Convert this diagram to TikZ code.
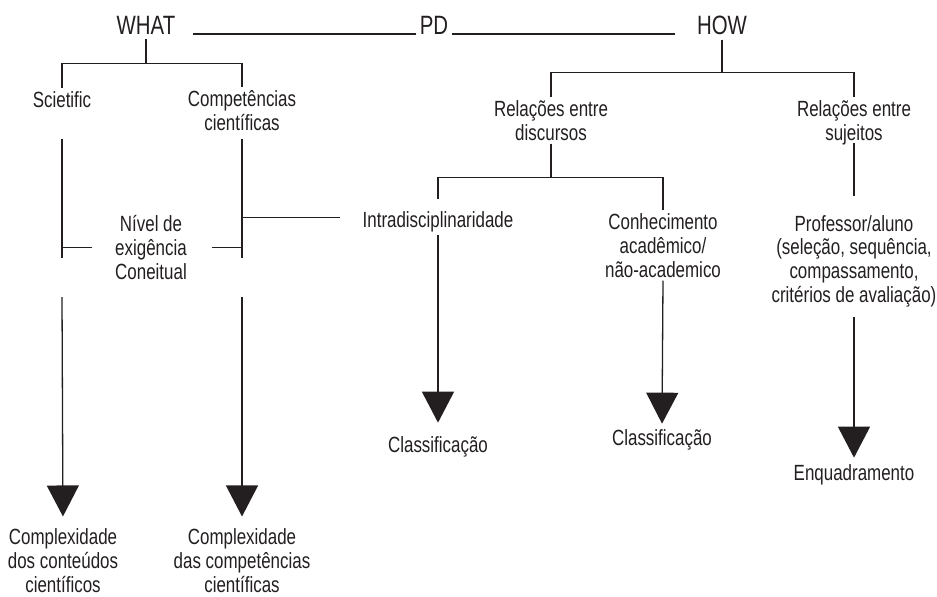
\documentclass[tikz,border=0pt]{standalone}
\usepackage{fontspec}
\setmainfont[FakeStretch=0.77]{Liberation Sans}
\usetikzlibrary{arrows.meta,positioning}
\definecolor{ink}{HTML}{231F20}

\begin{document}
\begin{tikzpicture}[x=0.5pt,y=-0.5pt,
  every node/.style={text=ink,inner sep=1.5pt,align=center,anchor=base,
    font=\fontsize{11pt}{11.8pt}\selectfont},
  head/.style={font=\fontsize{13.25pt}{14pt}\selectfont},
  link/.style={draw=ink,line width=0.65pt},
  down/.style={link,-{Triangle[width=16pt,length=15.5pt]}}]
\useasboundingbox (0,0) rectangle (937,596);

\node[head] (what) at (146,34) {WHAT};
\node[head] (pd) at (434,34) {PD};
\node[head] (how) at (722,34) {HOW};
\node (sci) at (62,107) {Scietific};
\node (comp) at (242,130) {Competências\\científicas};
\node (niv) at (151,279) {Nível de\\exigência\\Coneitual};
\node (rdis) at (551,140) {Relações entre\\discursos};
\node (rsuj) at (854,140) {Relações entre\\sujeitos};
\node (intra) at (438,227) {Intradisciplinaridade};
\node (conh) at (663,277) {Conhecimento\\acadêmico/\\não-academico};
\node (prof) at (854,302) {Professor/aluno\\(seleção, sequência,\\compassamento,\\critérios de avaliação)};
\node (cxa) at (63,592) {Complexidade\\dos conteúdos\\científicos};
\node (cxb) at (242,592) {Complexidade\\das competências\\científicas};
\node (cla) at (438,452) {Classificação};
\node (clb) at (662,445) {Classificação};
\node (enq) at (854,480) {Enquadramento};
\coordinate (sa) at (62,258);
\coordinate (sb) at (62,297);
\coordinate (ca) at (242,258);
\coordinate (cb) at (242,297);

\draw[link] (what.base east) ++(7pt,0) -- (pd.base west);
\draw[link] (pd.base east) -- ([xshift=-9.5pt]how.base west);
\draw[link] ([yshift=-1pt]what.south) -- ++(0,24) coordinate (wj);
\draw[link] (sci.north) |- (wj) -| (comp.north);
\draw[link] ([yshift=-1pt]how.south) -- ++(0,33) coordinate (hj);
\draw[link] (rdis.north) |- (hj) -| (rsuj.north);
\draw[link] (rdis.south) -- ++(0,34) coordinate (dj);
\draw[link,shorten <=4.5pt] (intra.north) |- (dj) -| (conh.north);
\draw[link] ([yshift=2.5pt]rsuj.south) -- ([yshift=8pt]prof.north);

\draw[link] ([yshift=-2.5pt]comp.south -| sci) -- (sa);
\draw[link] ([yshift=-2.5pt]comp.south) -- (ca);
\draw[link] ([xshift=-10pt]niv.west) -- (niv.west -| sci);
\draw[link] ([xshift=11pt]niv.east) -- (niv.east -| comp);
\draw[link] ([xshift=-9.5pt,yshift=2pt]intra.west) -- ([yshift=2pt]intra.west -| comp);

\draw[down,shorten >=4.5pt] (sb) -- (cxa.north);
\draw[down,shorten >=4.5pt] (cb) -- (cxb.north);
\draw[down,shorten >=5pt] (intra.south) -- (cla.north);
\draw[down,shorten >=1pt] (conh.south) -- (clb.north);
\draw[down,shorten >=1.5pt] ([yshift=-3.5pt]prof.south) -- (enq.north);
\end{tikzpicture}
\end{document}
